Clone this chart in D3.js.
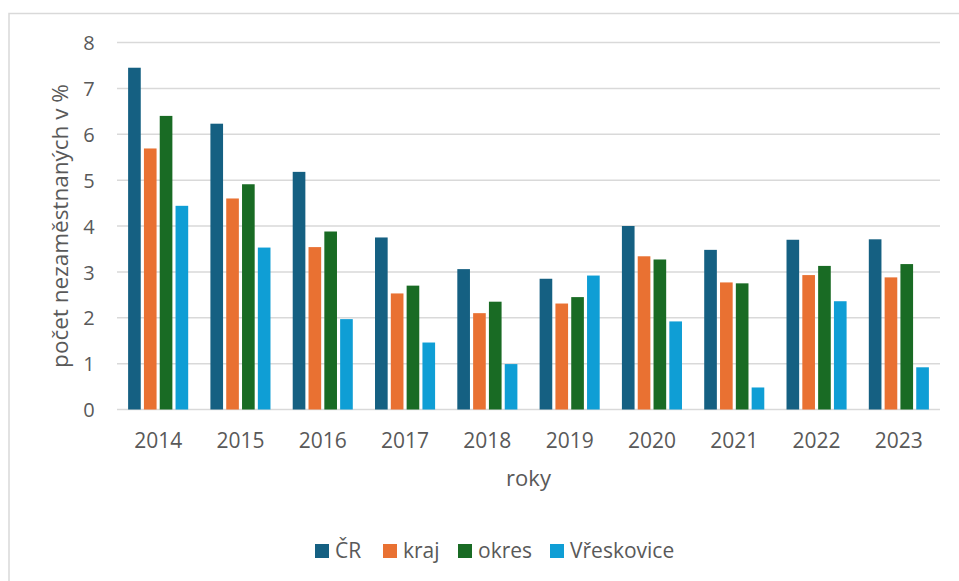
<!DOCTYPE html>
<html>
<head>
<meta charset="utf-8">
<script src="https://cdn.jsdelivr.net/npm/d3@7"></script>
<style>
  body { margin: 0; background: #fff; }
  text { font-family: "Open Sans", "Noto Sans", sans-serif; fill: #595959; }
</style>
</head>
<body>
<script>
// DATA
const YEARS = ['2014', '2015', '2016', '2017', '2018', '2019', '2020', '2021', '2022', '2023'];
const SERIES = ['ČR', 'kraj', 'okres', 'Vřeskovice'];
const CR = [7.45, 6.23, 5.18, 3.75, 3.06, 2.85, 4.00, 3.48, 3.70, 3.71];
const KRAJ = [5.69, 4.60, 3.54, 2.53, 2.10, 2.31, 3.34, 2.77, 2.93, 2.88];
const OKRES = [6.40, 4.91, 3.88, 2.70, 2.35, 2.45, 3.27, 2.75, 3.13, 3.17];
const VRESKOVICE = [4.44, 3.53, 1.97, 1.46, 0.99, 2.92, 1.92, 0.48, 2.36, 0.92];
const Y_TICKS = [0, 1, 2, 3, 4, 5, 6, 7, 8];

const VALUES = [CR, KRAJ, OKRES, VRESKOVICE];
const COLORS = ['#156082', '#E97132', '#196B24', '#0F9ED5'];

// CONSTANTS
const WIDTH = 959;
const HEIGHT = 581;
const LEFT = 117, RIGHT = 940, TOP = 42.5, BOTTOM = 409.5;

const svg = d3.select('body')
  .append('svg')
  .attr('width', WIDTH)
  .attr('height', HEIGHT);

// chart frame
svg.append('rect')
  .attr('x', 9)
  .attr('y', 13.5)
  .attr('width', 960)
  .attr('height', 600)
  .attr('fill', 'none')
  .attr('stroke', '#d9d9d9')
  .attr('stroke-width', 1.5);

const X_SCALE = d3.scaleBand()
  .domain(YEARS)
  .range([LEFT, RIGHT])
  .paddingInner(0.27)
  .paddingOuter(0.135);

const SUB_SCALE = d3.scaleBand()
  .domain(SERIES)
  .range([0, X_SCALE.bandwidth()])
  .paddingInner(0.2);

const Y_SCALE = d3.scaleLinear()
  .domain([0, 8])
  .range([BOTTOM, TOP]);

// GRIDLINES
svg.append('g')
  .selectAll('line')
  .data(Y_TICKS)
  .enter()
  .append('line')
  .attr('x1', LEFT)
  .attr('x2', RIGHT)
  .attr('y1', d => Y_SCALE(d))
  .attr('y2', d => Y_SCALE(d))
  .attr('stroke', '#d9d9d9')
  .attr('stroke-width', 1.5);

// Y-AXIS labels
const Y_AXIS = d3.axisLeft(Y_SCALE).tickValues(Y_TICKS).tickSize(0).tickPadding(0);
const yAxis = svg.append('g')
  .attr('transform', 'translate(96,0)')
  .call(Y_AXIS);
yAxis.select('.domain').remove();
yAxis.selectAll('text')
  .attr('text-anchor', 'middle')
  .attr('x', -7)
  .attr('dy', '0.36em')
  .style('font-size', '20px')
  .style('fill', '#595959');

// BARS
const groups = svg.append('g')
  .selectAll('g')
  .data(YEARS)
  .enter()
  .append('g')
  .attr('transform', d => 'translate(' + X_SCALE(d) + ',0)');

groups.selectAll('rect')
  .data((d, i) => SERIES.map((s, j) => ({ series: s, j: j, value: VALUES[j][i] })))
  .enter()
  .append('rect')
  .attr('x', d => SUB_SCALE(d.series))
  .attr('y', d => Y_SCALE(d.value))
  .attr('width', SUB_SCALE.bandwidth())
  .attr('height', d => Y_SCALE(0) - Y_SCALE(d.value))
  .attr('fill', d => COLORS[d.j]);

// X-AXIS labels
const X_AXIS = d3.axisBottom(X_SCALE).tickSize(0).tickPadding(0);
const xAxis = svg.append('g')
  .attr('transform', 'translate(0,448)')
  .call(X_AXIS);
xAxis.select('.domain').remove();
xAxis.selectAll('text')
  .attr('dy', 0)
  .style('font-size', '21px')
  .style('fill', '#595959');

// AXIS TITLES
svg.append('text')
  .attr('x', (LEFT + RIGHT) / 2)
  .attr('y', 486)
  .attr('text-anchor', 'middle')
  .style('font-size', '22px')
  .text('roky');

svg.append('text')
  .attr('transform', 'translate(68,' + ((TOP + BOTTOM) / 2) + ') rotate(-90)')
  .attr('text-anchor', 'middle')
  .style('font-size', '22.5px')
  .text('počet nezaměstnaných v %');

// LEGEND
const LEGEND_X = [315, 383, 458, 550];
const legend = svg.append('g')
  .selectAll('g')
  .data(SERIES)
  .enter()
  .append('g')
  .attr('transform', (d, i) => 'translate(' + LEGEND_X[i] + ',544)');

legend.append('rect')
  .attr('width', 14)
  .attr('height', 14)
  .attr('fill', (d, i) => COLORS[i]);

legend.append('text')
  .attr('x', 20)
  .attr('y', 14)
  .style('font-size', '21px')
  .text(d => d);
</script>
</body>
</html>
